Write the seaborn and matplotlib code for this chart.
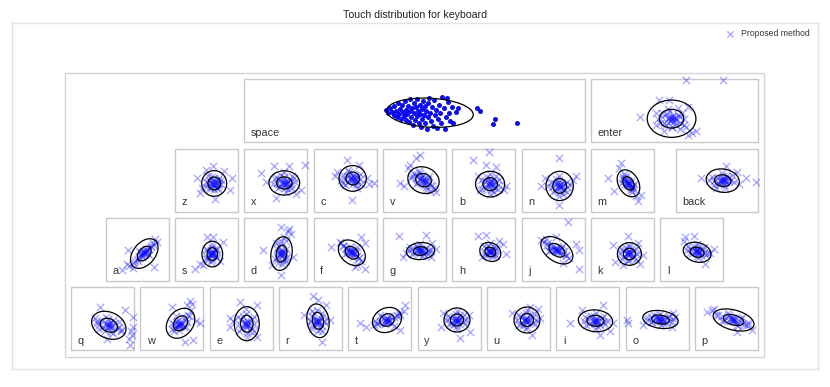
import numpy as np
import pandas as pd
import seaborn as sns
import matplotlib
matplotlib.use("Agg")
import matplotlib.pyplot as plt
from matplotlib.patches import Rectangle, Ellipse

sns.set_theme(style="white")
plt.rcParams['font.family'] = ['Liberation Sans', 'DejaVu Sans']

# ---------------- keyboard layout (key units) ----------------
key_labels = ["space", "enter",
              "z", "x", "c", "v", "b", "n", "m", "back",
              "a", "s", "d", "f", "g", "h", "j", "k", "l",
              "q", "w", "e", "r", "t", "y", "u", "i", "o", "p"]
key_col = [2.5, 7.5,
           1.5, 2.5, 3.5, 4.5, 5.5, 6.5, 7.5, 8.72,
           0.5, 1.5, 2.5, 3.5, 4.5, 5.5, 6.5, 7.5, 8.5,
           0, 1, 2, 3, 4, 5, 6, 7, 8, 9]
key_row = [0, 0,
           1, 1, 1, 1, 1, 1, 1, 1,
           2, 2, 2, 2, 2, 2, 2, 2, 2,
           3, 3, 3, 3, 3, 3, 3, 3, 3, 3]
key_span = [5, 2.5,
            1, 1, 1, 1, 1, 1, 1, 1.28,
            1, 1, 1, 1, 1, 1, 1, 1, 1,
            1, 1, 1, 1, 1, 1, 1, 1, 1, 1]

# ---------------- fitted 2-sigma ellipses (offset from key centre, px) ----------------
ell_dx = [15.5, -2.9,
          7.7, 8.5, 7.5, 9.0, 6.3, 6.5, 6.0, 6.0,
          7.1, 5.8, 5.7, 6.7, 6.0, 6.5, 3.7, 6.9, 5.3,
          6.3, 8.7, 5.6, 7.5, 7.2, 7.8, 8.5, 7.7, 3.3, 7.1]
ell_dy = [1.9, 7.9,
          3.3, 2.8, -1.7, 0.0, 4.0, 5.8, 3.2, 0.5,
          4.1, 4.6, 4.1, 3.3, 1.6, 2.5, 0.8, 4.5, 2.8,
          6.5, 4.5, 4.9, 2.0, 1.2, 1.2, 1.2, 2.0, 0.7, 1.2]
ell_w = [86.7, 48.7,
         25.0, 30.7, 27.3, 32.0, 29.0, 27.3, 29.0, 33.3,
         34.0, 20.7, 21.0, 30.0, 28.3, 22.0, 36.0, 24.0, 28.3,
         36.0, 33.0, 25.0, 22.0, 30.0, 26.0, 26.0, 34.4, 35.6, 42.0]
ell_h = [29.0, 37.3,
         25.7, 24.3, 25.7, 26.0, 25.7, 29.3, 20.0, 23.3,
         22.0, 25.7, 34.0, 22.0, 17.0, 18.0, 22.0, 22.7, 19.4,
         26.0, 25.0, 34.0, 34.0, 24.0, 24.0, 26.0, 21.7, 17.6, 20.0]
ell_tilt = [-3, 0,
            0, 0, 0, -20, 0, 0, -60, -8,
            50, 0, -10, -40, 5, -30, -35, 0, -15,
            -25, 50, 0, 10, 25, 0, 0, -5, -8, -15]

# ---------------- touch points (offset from key centre, px) ----------------
space_touches = [
    (-28, -1), (-26, 2), (-24, -3), (-22, 1), (-20, 4), (-20, -5), (-18, 0), (-17, 6), (-16, -8), (-15, 3),
    (-14, -2), (-13, 8), (-12, -6), (-11, 1), (-10, 5), (-9, -10), (-8, -1), (-8, 9), (-7, 3), (-6, -5),
    (-5, 11), (-4, 0), (-4, -12), (-3, 6), (-2, -3), (-1, 14), (0, 2), (0, -8), (1, 9), (2, -4),
    (3, 5), (3, -12), (4, 0), (5, 12), (6, -6), (6, 3), (7, 16), (8, -2), (8, 8), (9, -10),
    (10, 4), (11, -5), (11, 12), (12, 0), (13, 18), (14, -8), (14, 6), (15, -13), (16, 2), (17, 10),
    (18, -4), (19, 15), (20, -11), (21, 4), (22, -1), (23, 17), (24, 8), (25, -6), (26, 2), (27, 12),
    (28, -14), (30, -3), (31, 18), (32, 6), (33, -13), (34, -9), (35, 2), (36, 10), (38, -4), (39, 12),
    (42, 1), (44, -3), (62.8, -2.5), (65.5, -0.1), (80.5, 8.5), (78.8, 13.2), (102.2, 11.9)]

touches = {
    "enter": [(-4, 6), (-2, 8), (0, 7), (-3, 9), (-1, 5), (-5, 8), (1, 9), (-2, 6), (-4, 10), (2, 7), (0, 10), (-6, 7),
              (-12, 2), (8, 2), (-14, 12), (10, 14), (-6, -2), (4, -3), (-2, 16), (6, 18),
              (11.5, -30.8), (48.8, -30.8), (-34.2, 6.5), (-15.2, -10.8), (-5.2, -10.8), (21.5, 19.9),
              (13.1, 24.2), (-18.5, 14.2), (-10, 20), (18, 22), (14, -4)],
    "z": [(6, 2), (8, 4), (9, 2), (7, 5), (10, 4), (8, 1), (6, 4), (9, 6), (5, 3), (11, 3),
          (2, -4), (13, -2), (4, 9), (12, 9), (0, 2), (15, 4),
          (6.8, -14.5), (-9.8, -2.2), (25.2, -2.2), (-6.5, 12.8), (8.5, 18.8), (23.5, 9.5), (-4, 8), (18, -9), (0, -10)],
    "x": [(7, 2), (9, 3), (10, 1), (8, 4), (11, 3), (6, 3), (9, 5), (12, 2), (7, 0), (10, 4),
          (0, -3), (16, -4), (2, 8), (16, 8), (-3, 4), (19, 2), (8, -8), (10, 12),
          (-14.8, -7.2), (29.5, -15.5), (-1.5, -14.5), (13.5, -14.5), (25, 9.5), (0, 18), (-10, 2), (20, 14)],
    "c": [(6, -2), (8, -1), (9, -3), (7, 0), (10, -2), (5, -1), (8, -4), (9, 1), (6, -3), (11, 0),
          (-2, -5), (15, -6), (0, 5), (16, 4), (3, -10), (12, 8), (-4, 0),
          (1.9, -19.8), (-9.8, -3.8), (28.5, 2.8), (6.9, 19.5), (13.5, -15.5), (22, -2), (24, 4), (-8, -8)],
    "v": [(7, -2), (9, 0), (11, 1), (8, 1), (10, -1), (12, 2), (6, -1), (9, 2), (8, -3), (11, 3),
          (0, -7), (18, 6), (2, 4), (15, -4), (-3, -2), (20, 8), (5, -9), (12, 10),
          (1.9, -22.2), (-4.8, -15.5), (-14.8, 2.8), (15.2, 11.2), (5.2, -25.5), (-10, 6), (-6, -12), (22, 12)],
    "b": [(5, 3), (7, 4), (8, 2), (6, 6), (4, 5), (9, 4), (7, 1), (6, 3), (8, 6), (5, 2),
          (-3, 0), (15, 0), (-2, 9), (14, 9), (6, -6), (6, 14), (12, -4),
          (5.1, -27.8), (-10.9, -20.5), (2.5, -15.5), (12.5, -13.2), (22.5, 6.2), (-4.2, 9.5), (20, 10), (-6, -4)],
    "n": [(6, 5), (7, 7), (5, 6), (8, 4), (7, 5), (6, 8), (4, 4), (8, 7), (5, 3), (9, 6),
          (-2, 2), (14, 2), (0, 12), (14, 12), (6, -4), (6, 16), (-5, 6), (17, 5),
          (6.2, -22.2), (-12.1, 6.2), (6.2, 24.5), (22.9, -3.8), (-8, -2), (20, 0)],
    "m": [(5, 2), (6, 4), (7, 3), (6, 1), (5, 5), (8, 6), (4, 0), (7, 5), (6, 3), (8, 4),
          (2, -6), (10, 12), (0, 3), (12, 4), (1, -3), (11, 9),
          (-1.5, -17.2), (-14.9, -2.2), (-8.2, 11.2), (15.1, 21.2), (18.5, 14.5), (-3, -12), (14, 16)],
    "back": [(4, 0), (6, 1), (8, 0), (5, 2), (7, -1), (3, 1), (9, 2), (6, -1), (5, 0), (8, 1),
             (-5, -3), (17, 2), (-3, 5), (15, -5), (5, -7), (8, 8), (-8, 0),
             (9.4, -14.5), (-15.6, -2.2), (29.4, -2.2), (39.4, 2.2), (-0.6, 7.8), (20, -8), (22, 4)],
    "a": [(6, 4), (8, 3), (7, 5), (9, 2), (5, 6), (8, 4), (6, 2), (10, 1), (4, 6), (7, 3),
          (0, 10), (14, -3), (2, 2), (12, 6), (-3, 14), (16, -6),
          (-15.5, 20.8), (-10.5, 14.1), (-3.9, 18.1), (16.8, 17.5), (19.5, -7.5), (-8.9, 0.8), (-8, 17), (18, -10)],
    "s": [(5, 4), (6, 5), (7, 3), (5, 6), (6, 2), (4, 5), (7, 6), (6, 4), (5, 7), (7, 4),
          (0, 0), (11, 0), (0, 10), (11, 9), (6, -5), (5, 13),
          (-11.5, 19.1), (-6.5, 14.1), (0.2, -12.5), (6.8, -12.5), (16.8, -7.5), (-3, 16), (14, 12)],
    "d": [(5, 4), (6, 2), (5, 6), (7, 3), (4, 5), (6, 7), (5, 1), (7, 5), (4, 3), (6, 4),
          (0, -6), (10, -8), (-1, 10), (10, 12), (2, 14), (8, -12),
          (5.2, -22.5), (13.5, -20.9), (15.2, -15.9), (-13.2, 0.1), (16.8, 7.5), (5.2, 25.8), (12, -18), (-4, 16)],
    "f": [(6, 3), (7, 4), (5, 2), (8, 5), (6, 1), (7, 3), (4, 2), (9, 4), (5, 4), (8, 2),
          (-2, -3), (14, 9), (0, 5), (12, -2), (-4, -6), (16, 12),
          (-13.8, -2.5), (16.2, -12.5), (19.5, 19.1), (9.5, 17.5), (-5.5, -7.5), (20, -6), (12, 16)],
    "g": [(5, 1), (6, 2), (8, 1), (4, 2), (7, 0), (6, 3), (9, 2), (3, 1), (7, 2), (5, 0),
          (-4, -2), (16, 0), (-2, 5), (14, 5), (6, -5), (8, 7),
          (-15.5, -13.2), (11.9, -14.2), (21.9, -0.9), (-11.5, 7.5), (16.9, 7.5), (18, -6), (-8, 4)],
    "h": [(6, 2), (7, 3), (5, 1), (8, 4), (6, 3), (5, 2), (7, 1), (6, 4), (8, 2), (4, 2),
          (0, -3), (12, 7), (1, 6), (12, -1), (6, -6),
          (-5.9, -13.2), (2.5, -14.2), (19.1, -5.9), (22.5, 4.1), (15, -8), (-2, 8)],
    "j": [(3, 0), (4, 1), (5, 2), (2, -1), (3, 2), (6, 1), (4, -1), (2, 1), (5, 3), (3, 1),
          (-6, -6), (13, 7), (-4, 2), (10, -3), (-9, -7), (16, 9),
          (14.5, -27.5), (22.9, -5.9), (-7.1, -10.9), (2.9, -12.5), (26.2, 19.1), (26.2, 0.8), (-12, -9), (10, 14)],
    "k": [(6, 4), (7, 5), (8, 3), (6, 6), (5, 4), (8, 5), (7, 2), (6, 3), (9, 4), (5, 5),
          (-1, 0), (14, 0), (0, 10), (14, 10), (7, -4), (6, 12),
          (5.5, -13.2), (-9.5, -4.2), (-7.8, 12.5), (20.5, 5.8), (17.2, 14.1), (0.5, 15.8), (16, -6)],
    "l": [(5, 2), (6, 3), (4, 2), (7, 4), (5, 1), (3, 2), (7, 2), (6, 4), (4, 3), (6, 1),
          (-4, -3), (14, 6), (-2, 4), (12, -2), (5, -5), (6, 9),
          (-6.5, -12.5), (1.8, -13.2), (21.8, -0.9), (13.5, 14.1), (-8, -8), (18, 4)],
    "q": [(5, 6), (7, 7), (6, 5), (8, 8), (4, 5), (6, 7), (9, 7), (5, 8), (7, 4), (3, 5),
          (-6, 2), (18, 11), (-4, 10), (16, 3), (3, -2), (10, 14), (-8, -1),
          (-2.5, -12.1), (22.5, -8.8), (30.2, -2.1), (30.8, 7.9), (29.2, 16.2), (27.5, 26.2), (4.2, 20.5), (28, 12), (26, 20)],
    "w": [(7, 5), (8, 6), (6, 6), (9, 4), (7, 7), (5, 7), (8, 3), (10, 5), (6, 5), (9, 6),
          (2, 12), (16, -4), (0, 4), (14, 8), (4, -3), (18, -8),
          (18.2, -18.1), (14.9, -13.8), (28.2, 4.5), (21.5, 21.2), (13.2, 22.9), (-0.1, -12.1), (20, -15), (24, 2)],
    "e": [(5, 4), (6, 6), (4, 5), (7, 3), (5, 7), (6, 2), (4, 3), (7, 6), (5, 5), (6, 8),
          (-3, -2), (13, -2), (-2, 12), (13, 12), (5, -10), (6, 18),
          (-11.2, -0.5), (-1.2, -17.1), (15.5, -13.8), (-11.2, 7.9), (-8, 2), (16, 18)],
    "r": [(7, 2), (8, 3), (6, 1), (8, 4), (7, 0), (6, 3), (9, 2), (7, 5), (8, 1), (6, 4),
          (2, -8), (12, -6), (2, 10), (12, 12), (0, 2), (14, 3),
          (2.5, -22.8), (7.5, -18.8), (19.5, 1.2), (11.5, 23.2), (-6, -4), (16, -14)],
    "t": [(6, 1), (7, 2), (8, 0), (6, 3), (9, 1), (5, 2), (7, -1), (8, 3), (6, 0), (9, 2),
          (-3, 5), (17, -4), (0, -4), (14, 7), (-5, 2), (19, -6),
          (-19.8, 4.2), (25.2, -13.8), (20.2, 11.2), (24, -8), (-14, 8)],
    "y": [(7, 1), (8, 2), (6, 0), (9, 1), (7, 3), (8, -1), (6, 2), (9, 3), (7, 0), (10, 1),
          (-1, -3), (16, 5), (0, 5), (15, -4), (8, -8), (8, 10),
          (-6.2, -5.8), (20.8, 13.2), (10.8, 19.2), (-8, 8), (20, -4)],
    "u": [(8, 1), (9, 2), (7, 0), (10, 1), (8, 3), (9, -1), (7, 2), (10, 3), (8, 0), (6, 1),
          (0, -4), (17, 5), (1, 6), (16, -5), (9, -9), (8, 10),
          (11.5, -11.8), (21.5, -0.8), (20, -10), (-6, -6), (14, 16)],
    "i": [(7, 2), (8, 3), (6, 1), (9, 2), (7, 4), (5, 2), (10, 3), (8, 1), (6, 3), (9, 0),
          (-3, -2), (17, 5), (-2, 6), (16, -3), (8, -6), (8, 10),
          (15.5, -13.8), (-6.1, -8.8), (12.2, 16.2), (25.5, 4.5), (-17.8, 4.5), (22, 12)],
    "o": [(2, 0), (3, 1), (4, -1), (1, 1), (5, 0), (3, 2), (0, 0), (6, 1), (2, -1), (4, 2), (-2, 0), (7, 0),
          (-10, -2), (15, 3), (-6, 3), (12, -3), (3, -5), (4, 6),
          (-30.5, 1.2), (-28.9, 4.5), (16.1, -5.5), (14.5, 7.9), (18, -2), (-14, 6)],
    "p": [(6, 0), (7, 1), (8, 2), (5, -1), (9, 1), (6, 2), (4, 0), (10, 3), (7, -1), (8, 0),
          (-8, -4), (20, 6), (-4, 2), (16, -2), (2, -6), (12, 7),
          (-19.5, -7.1), (-14.5, -8.8), (25.5, 11.2), (10.5, 12.9), (22, 4), (-12, -10)],
}

# additional touches filling the 1-2 sigma band (offset from key centre, px)
touches_band = {
    "z": [(3, 0), (12, 0), (4, 7), (12, 6), (8, -2), (8, 9), (2, 3), (13, 4), (5, -3), (11, 8), (0, 7), (15, 0)],
    "x": [(3, 0), (14, 0), (4, 6), (13, 6), (8, -3), (9, 8), (1, 3), (15, 4), (5, -5), (12, 9), (-1, -1), (18, -2)],
    "c": [(2, -4), (13, -3), (3, 2), (12, 2), (7, -7), (8, 4), (0, -1), (15, -1), (4, -8), (11, 5), (-2, 3)],
    "v": [(3, -3), (15, 3), (4, 2), (14, -1), (8, -5), (10, 5), (1, -5), (17, 5), (6, -7), (12, 7), (-2, -4)],
    "b": [(1, 1), (12, 2), (2, 8), (11, 8), (6, -2), (7, 10), (-1, 4), (14, 5), (3, -3), (10, 12)],
    "n": [(1, 3), (12, 4), (2, 10), (11, 10), (6, 0), (7, 12), (-1, 7), (14, 7), (3, -1), (10, 14)],
    "m": [(3, -2), (9, 8), (2, 1), (10, 6), (4, -4), (9, 10), (3, 4), (9, 1), (1, -1), (11, 7)],
    "back": [(0, -2), (12, 1), (1, 3), (11, -2), (6, -4), (7, 5), (-3, 1), (14, 0), (3, 4), (10, -4)],
    "enter": [(-12, 6), (6, 6), (-10, 12), (6, 12), (-4, 0), (-2, 16), (-16, 8), (10, 8), (-8, 3), (4, 4),
              (-8, 14), (2, 14), (-18, 2), (12, 16)],
    "a": [(2, 8), (12, 0), (4, 4), (10, 4), (1, 12), (14, -2), (5, 8), (9, 0), (-2, 12), (16, -4)],
    "s": [(1, 1), (10, 1), (1, 8), (10, 8), (6, -2), (6, 11), (3, 4), (9, 5), (2, 10), (9, 0)],
    "d": [(1, 0), (10, 0), (1, 8), (10, 9), (4, -5), (7, 12), (3, -2), (8, 10), (2, 4), (9, 4), (5, -8), (6, 15)],
    "f": [(1, -1), (12, 7), (2, 4), (11, 2), (-2, -3), (14, 9), (5, -2), (8, 8), (3, 0), (10, 5)],
    "g": [(-2, 0), (14, 2), (0, 4), (12, -1), (4, -2), (9, 4), (-5, 1), (16, 2), (2, -3), (10, 5)],
    "h": [(2, -1), (11, 5), (1, 3), (11, 1), (4, -3), (9, 7), (3, 6), (10, -2)],
    "j": [(-3, -3), (10, 5), (-1, 1), (8, -1), (-6, -4), (13, 6), (0, -3), (7, 4), (-4, 2), (11, 2)],
    "k": [(1, 1), (12, 1), (1, 8), (12, 8), (7, -2), (7, 11), (-2, 4), (15, 5), (4, -1), (10, 9)],
    "l": [(-2, 0), (12, 4), (0, 5), (11, 0), (5, -2), (6, 7), (-5, 1), (15, 4), (2, -2), (9, 6)],
    "q": [(-2, 2), (14, 10), (0, 8), (12, 4), (5, 0), (8, 13), (-6, 4), (16, 8), (2, 12), (10, 1), (-4, 6), (18, 12)],
    "w": [(3, 9), (14, 0), (5, 2), (12, 8), (2, 5), (15, 3), (7, 11), (10, -2), (0, 10), (17, -3)],
    "e": [(0, 0), (11, 0), (0, 10), (11, 10), (5, -5), (6, 14), (2, -3), (9, 12), (-2, 5), (13, 5)],
    "r": [(2, -3), (13, -3), (2, 7), (12, 7), (7, -9), (8, 12), (4, -6), (10, 10), (1, 2), (14, 2)],
    "t": [(0, 3), (14, -2), (2, -2), (12, 4), (-3, 4), (17, -3), (5, 5), (9, -3), (-6, 6), (20, -4)],
    "y": [(1, -2), (14, 3), (2, 4), (13, -2), (7, -5), (8, 7), (-2, 1), (17, 1), (4, 6), (11, -4)],
    "u": [(2, -3), (15, 4), (2, 5), (15, -2), (8, -6), (9, 8), (-1, 1), (18, 1), (5, 6), (12, -4)],
    "i": [(0, 0), (15, 3), (1, 5), (14, -1), (6, -3), (9, 7), (-4, 2), (19, 2), (3, -3), (12, 6)],
    "o": [(-6, -2), (12, 2), (-5, 3), (11, -2), (0, -3), (6, 4), (-10, 1), (16, 0), (-3, -4), (9, 4)],
    "p": [(-4, -3), (18, 5), (-2, 2), (15, 0), (3, -4), (11, 6), (-10, -4), (22, 6), (0, -1), (14, 3)],
}

title = "Touch distribution for keyboard"
legend_label = "Proposed method"

# ---------------- geometry (pixels) ----------------
W, H = 830, 387
PITCH = 69.33
KEY = 63.0
X0, Y0 = 71.0, 79.3
OUT_L, OUT_R, OUT_T, OUT_B = 12.0, 818.3, 22.5, 369.3

fig = plt.figure(figsize=(W / 100, H / 100), dpi=100)
ax = fig.add_axes([OUT_L / W, (H - OUT_B) / H, (OUT_R - OUT_L) / W, (OUT_B - OUT_T) / H])
ax.set_xlim(OUT_L, OUT_R)
ax.set_ylim(OUT_B, OUT_T)
ax.set_xticks([])
ax.set_yticks([])
for sp in ax.spines.values():
    sp.set_color("#e3e3e3")
    sp.set_linewidth(1.0)

# inner keyboard frame
ax.add_patch(Rectangle((65.0, 72.7), 764.3 - 65.0, 356.7 - 72.7, fill=False,
                       ec="#d4d4d4", lw=1.0, zorder=1))

centers = {}
rows = []
for i, lab in enumerate(key_labels):
    left = X0 + key_col[i] * PITCH
    top = Y0 + key_row[i] * PITCH
    wid = key_span[i] * PITCH - (PITCH - KEY)
    ax.add_patch(Rectangle((left, top), wid, KEY, fill=False, ec="#c9c9c9", lw=1.0, zorder=1))
    ax.text(left + 6.5, top + KEY - 6.5, lab, fontsize=7.8, color="#333333",
            va="baseline", ha="left", zorder=5)
    cx, cy = left + wid / 2, top + KEY / 2
    centers[lab] = (cx, cy)
    for src in (touches, touches_band):
        if lab in src:
            for dx, dy in src[lab]:
                rows.append((lab, cx + dx, cy + dy))
    # ellipses (2 sigma and 1 sigma)
    ex, ey = cx + ell_dx[i], cy + ell_dy[i]
    scales = [1.0] if lab == "space" else [1.0, 0.5]
    for sc in scales:
        ax.add_patch(Ellipse((ex, ey), ell_w[i] * sc, ell_h[i] * sc, angle=-ell_tilt[i],
                             fill=False, ec="black", lw=0.9, zorder=4))

df = pd.DataFrame(rows, columns=["key", "x", "y"])
cx, cy = centers["space"]
df_space = pd.DataFrame({"x": [cx + d[0] for d in space_touches],
                         "y": [cy + d[1] for d in space_touches]})

sns.scatterplot(data=df, x="x", y="y", marker="x", color="#0000ff", alpha=0.33,
                s=28, linewidth=1.0, ax=ax, label=legend_label, zorder=3)
sns.scatterplot(data=df_space, x="x", y="y", marker="o", color="#0000ee", alpha=0.95,
                s=13, linewidth=0, ax=ax, legend=False, zorder=3)

ax.set_xlabel("")
ax.set_ylabel("")
ax.set_xlim(OUT_L, OUT_R)
ax.set_ylim(OUT_B, OUT_T)

leg = ax.legend(loc="upper right", bbox_to_anchor=((813 - OUT_L) / (OUT_R - OUT_L), (OUT_B - 26) / (OUT_B - OUT_T)),
                frameon=False, fontsize=6.2, handletextpad=0.6, borderaxespad=0, handlelength=1.2,
                markerscale=0.85)
for t in leg.get_texts():
    t.set_color("#333333")

fig.text(415 / W, 1 - 15.5 / H, title, ha="center", va="center", fontsize=7.6, color="#222222")

fig.savefig("out.png", dpi=100)
